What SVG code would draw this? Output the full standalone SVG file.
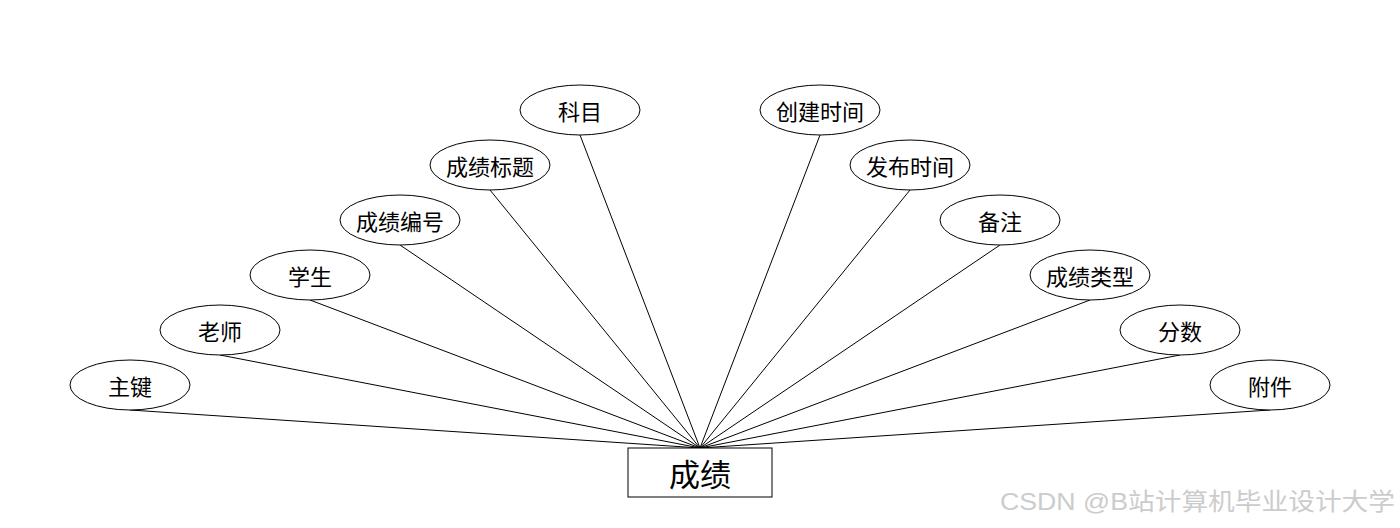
<svg xmlns="http://www.w3.org/2000/svg" width="1400" height="528" viewBox="0 0 1400 528">
<style>
.e{fill:#fff;stroke:#000;stroke-width:1}
.t{font-family:"Noto Sans CJK SC","Liberation Sans",sans-serif;font-size:22px;text-anchor:middle;dominant-baseline:central;fill:#000}
.c line{stroke:#000;stroke-width:1}
</style>
<rect width="1400" height="528" fill="#fff"/>
<g class="c" id="connectors">
<line x1="130" y1="410" x2="700" y2="448"/>
<line x1="220" y1="355" x2="700" y2="448"/>
<line x1="310" y1="300" x2="700" y2="448"/>
<line x1="400" y1="245" x2="700" y2="448"/>
<line x1="490" y1="190" x2="700" y2="448"/>
<line x1="580" y1="135" x2="700" y2="448"/>
<line x1="820" y1="135" x2="700" y2="448"/>
<line x1="910" y1="190" x2="700" y2="448"/>
<line x1="1000" y1="245" x2="700" y2="448"/>
<line x1="1090" y1="300" x2="700" y2="448"/>
<line x1="1180" y1="355" x2="700" y2="448"/>
<line x1="1270" y1="410" x2="700" y2="448"/>
</g>
<g id="n1"><ellipse class="e" cx="130" cy="385" rx="60" ry="25"/><text class="t" x="130" y="385">主键</text></g>
<g id="n2"><ellipse class="e" cx="220" cy="330" rx="60" ry="25"/><text class="t" x="220" y="330">老师</text></g>
<g id="n3"><ellipse class="e" cx="310" cy="275" rx="60" ry="25"/><text class="t" x="310" y="275">学生</text></g>
<g id="n4"><ellipse class="e" cx="400" cy="220" rx="60" ry="25"/><text class="t" x="400" y="220">成绩编号</text></g>
<g id="n5"><ellipse class="e" cx="490" cy="165" rx="60" ry="25"/><text class="t" x="490" y="165">成绩标题</text></g>
<g id="n6"><ellipse class="e" cx="580" cy="110" rx="60" ry="25"/><text class="t" x="580" y="110">科目</text></g>
<g id="n7"><ellipse class="e" cx="820" cy="110" rx="60" ry="25"/><text class="t" x="820" y="110">创建时间</text></g>
<g id="n8"><ellipse class="e" cx="910" cy="165" rx="60" ry="25"/><text class="t" x="910" y="165">发布时间</text></g>
<g id="n9"><ellipse class="e" cx="1000" cy="220" rx="60" ry="25"/><text class="t" x="1000" y="220">备注</text></g>
<g id="n10"><ellipse class="e" cx="1090" cy="275" rx="60" ry="25"/><text class="t" x="1090" y="275">成绩类型</text></g>
<g id="n11"><ellipse class="e" cx="1180" cy="330" rx="60" ry="25"/><text class="t" x="1180" y="330">分数</text></g>
<g id="n12"><ellipse class="e" cx="1270" cy="385" rx="60" ry="25"/><text class="t" x="1270" y="385">附件</text></g>
<g id="main"><rect x="628" y="448" width="144" height="49" fill="#fff" stroke="#000" stroke-width="1"/><text class="t" x="700" y="472" style="font-size:31px">成绩</text></g>
<text x="1000" y="510" font-family="'Liberation Sans','Noto Sans CJK SC',sans-serif" font-size="24" fill="#cccccc" textLength="395" lengthAdjust="spacingAndGlyphs">CSDN @B站计算机毕业设计大学</text>
</svg>
